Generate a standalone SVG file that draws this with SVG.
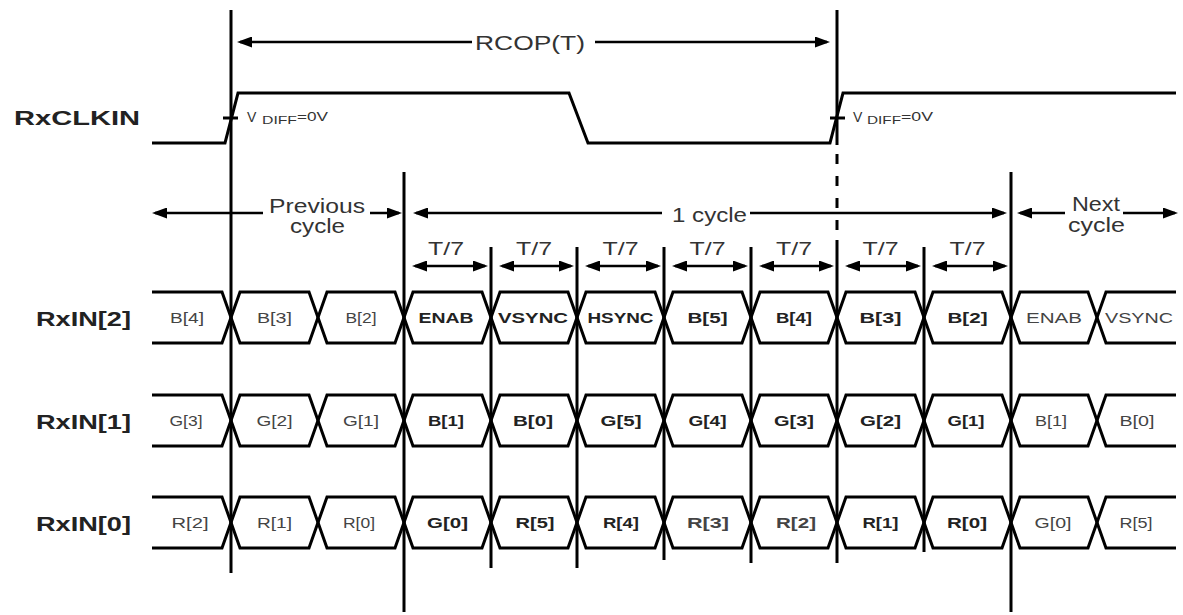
<svg xmlns="http://www.w3.org/2000/svg" xmlns:xlink="http://www.w3.org/1999/xlink" width="1183" height="615" viewBox="0 0 1183 615">
<style>
.w{fill:none;stroke:#000;stroke-width:3;stroke-linejoin:miter}
.v{stroke:#000;stroke-width:3}
.a{stroke:#000;stroke-width:2.5}
.lbl{font-family:"Liberation Sans",Arial,sans-serif;font-weight:700;font-size:21px;fill:#222}
.t{font-family:"Liberation Sans",Arial,sans-serif;font-size:20px;fill:#333}
.t7{font-family:"Liberation Sans",Arial,sans-serif;font-size:18px;fill:#333;text-anchor:middle}
.c{font-family:"Liberation Sans",Arial,sans-serif;font-size:14px;fill:#444;text-anchor:middle}
.cb{font-family:"Liberation Sans",Arial,sans-serif;font-size:14px;font-weight:700;fill:#222;text-anchor:middle}
.vd{font-family:"Liberation Sans",Arial,sans-serif;fill:#333}
</style>
<defs>
<marker id="arR" viewBox="0 0 15 11" refX="12" refY="5.5" markerWidth="15" markerHeight="11" markerUnits="userSpaceOnUse" orient="0"><path d="M0,0 L15,5.5 L0,11 z" fill="#000"/></marker>
<marker id="arL" viewBox="0 0 15 11" refX="3" refY="5.5" markerWidth="15" markerHeight="11" markerUnits="userSpaceOnUse" orient="0"><path d="M15,0 L0,5.5 L15,11 z" fill="#000"/></marker>
<g id="lane">
<path class="w" d="M152,0 H222 L240,51 H309 L327,0 H395 L413,51 H482 L500,0 H568 L586,51 H655 L673,0 H742 L760,51 H828 L846,0 H915 L933,51 H1002 L1020,0 H1088 L1106,51 H1176"/>
<path class="w" d="M152,51 H222 L240,0 H309 L327,51 H395 L413,0 H482 L500,51 H568 L586,0 H655 L673,51 H742 L760,0 H828 L846,51 H915 L933,0 H1002 L1020,51 H1088 L1106,0 H1176"/>
</g>
</defs>
<rect width="1183" height="615" fill="#fff"/>

<g id="rxclkin">
<text class="lbl" x="14" y="125" font-size="22" textLength="126" lengthAdjust="spacingAndGlyphs">RxCLKIN</text>
<path class="w" d="M152,143 H225 L238,93 H569 L588,143 H830 L843,93 H1176"/>
<line class="v" x1="223" y1="118" x2="238" y2="118"/>
<line class="v" x1="830" y1="118" x2="845" y2="118"/>
<text class="vd" x="247" y="122" font-size="14">V</text>
<text class="vd" x="262" y="124" font-size="10" textLength="35" lengthAdjust="spacingAndGlyphs">DIFF</text>
<text class="vd" x="297" y="121" font-size="12" textLength="31" lengthAdjust="spacingAndGlyphs">=0V</text>
<text class="vd" x="853" y="122" font-size="14">V</text>
<text class="vd" x="867" y="124" font-size="10" textLength="34" lengthAdjust="spacingAndGlyphs">DIFF</text>
<text class="vd" x="901" y="121" font-size="12" textLength="32" lengthAdjust="spacingAndGlyphs">=0V</text>
</g>

<g id="rxin2">
<text class="lbl" x="36" y="325.5" textLength="95" lengthAdjust="spacingAndGlyphs">RxIN[2]</text>
<use xlink:href="#lane" href="#lane" transform="translate(0,292)"/>
<text class="c" x="187" y="322.5" textLength="34" lengthAdjust="spacingAndGlyphs">B[4]</text>
<text class="c" x="274.5" y="322.5" textLength="35" lengthAdjust="spacingAndGlyphs">B[3]</text>
<text class="c" x="361" y="322.5" textLength="31" lengthAdjust="spacingAndGlyphs">B[2]</text>
<text class="cb" x="446" y="322.5" textLength="55" lengthAdjust="spacingAndGlyphs">ENAB</text>
<text class="cb" x="533" y="322.5" textLength="70" lengthAdjust="spacingAndGlyphs">VSYNC</text>
<text class="cb" x="620.5" y="322.5" textLength="66" lengthAdjust="spacingAndGlyphs">HSYNC</text>
<text class="cb" x="707.5" y="322.5" textLength="40" lengthAdjust="spacingAndGlyphs">B[5]</text>
<text class="cb" x="794" y="322.5" textLength="36" lengthAdjust="spacingAndGlyphs">B[4]</text>
<text class="cb" x="880.5" y="322.5" textLength="42" lengthAdjust="spacingAndGlyphs">B[3]</text>
<text class="cb" x="967.5" y="322.5" textLength="40" lengthAdjust="spacingAndGlyphs">B[2]</text>
<text class="c" x="1054" y="322.5" textLength="56" lengthAdjust="spacingAndGlyphs">ENAB</text>
<text class="c" x="1139" y="322.5" textLength="68" lengthAdjust="spacingAndGlyphs">VSYNC</text>
</g>

<g id="rxin1">
<text class="lbl" x="36" y="428.5" textLength="95" lengthAdjust="spacingAndGlyphs">RxIN[1]</text>
<use xlink:href="#lane" href="#lane" transform="translate(0,395)"/>
<text class="c" x="186" y="425.5" textLength="33" lengthAdjust="spacingAndGlyphs">G[3]</text>
<text class="c" x="274.5" y="425.5" textLength="36" lengthAdjust="spacingAndGlyphs">G[2]</text>
<text class="c" x="361" y="425.5" textLength="36" lengthAdjust="spacingAndGlyphs">G[1]</text>
<text class="cb" x="446" y="425.5" textLength="36" lengthAdjust="spacingAndGlyphs">B[1]</text>
<text class="cb" x="533" y="425.5" textLength="40" lengthAdjust="spacingAndGlyphs">B[0]</text>
<text class="cb" x="621" y="425.5" textLength="41" lengthAdjust="spacingAndGlyphs">G[5]</text>
<text class="cb" x="707.5" y="425.5" textLength="38" lengthAdjust="spacingAndGlyphs">G[4]</text>
<text class="cb" x="794" y="425.5" textLength="40" lengthAdjust="spacingAndGlyphs">G[3]</text>
<text class="cb" x="880.5" y="425.5" textLength="41" lengthAdjust="spacingAndGlyphs">G[2]</text>
<text class="cb" x="966" y="425.5" textLength="37" lengthAdjust="spacingAndGlyphs">G[1]</text>
<text class="c" x="1051" y="425.5" textLength="32" lengthAdjust="spacingAndGlyphs">B[1]</text>
<text class="c" x="1137" y="425.5" textLength="35" lengthAdjust="spacingAndGlyphs">B[0]</text>
</g>

<g id="rxin0">
<text class="lbl" x="36" y="530.5" textLength="95" lengthAdjust="spacingAndGlyphs">RxIN[0]</text>
<use xlink:href="#lane" href="#lane" transform="translate(0,497)"/>
<text class="c" x="190" y="527.5" textLength="37" lengthAdjust="spacingAndGlyphs">R[2]</text>
<text class="c" x="274.5" y="527.5" textLength="35" lengthAdjust="spacingAndGlyphs">R[1]</text>
<text class="c" x="359" y="527.5" textLength="32" lengthAdjust="spacingAndGlyphs">R[0]</text>
<text class="cb" x="447.5" y="527.5" textLength="41" lengthAdjust="spacingAndGlyphs">G[0]</text>
<text class="cb" x="535" y="527.5" textLength="39" lengthAdjust="spacingAndGlyphs">R[5]</text>
<text class="cb" x="621" y="527.5" textLength="36" lengthAdjust="spacingAndGlyphs">R[4]</text>
<text class="c" x="708" y="527.5" font-weight="700" textLength="42" lengthAdjust="spacingAndGlyphs">R[3]</text>
<text class="c" x="796" y="527.5" font-weight="700" textLength="40" lengthAdjust="spacingAndGlyphs">R[2]</text>
<text class="cb" x="880.5" y="527.5" textLength="36" lengthAdjust="spacingAndGlyphs">R[1]</text>
<text class="cb" x="967" y="527.5" textLength="40" lengthAdjust="spacingAndGlyphs">R[0]</text>
<text class="c" x="1053" y="527.5" textLength="37" lengthAdjust="spacingAndGlyphs">G[0]</text>
<text class="c" x="1136" y="527.5" textLength="33" lengthAdjust="spacingAndGlyphs">R[5]</text>
</g>

<g id="connectors">
<line class="v" x1="231" y1="10" x2="231" y2="573"/>
<line class="v" x1="837" y1="10" x2="837" y2="145"/>
<line class="v" x1="837" y1="154" x2="837" y2="240" stroke-dasharray="10 12"/>
<line class="v" x1="837" y1="240" x2="837" y2="563"/>
<line class="v" x1="404" y1="172" x2="404" y2="612"/>
<line class="v" x1="1011" y1="172" x2="1011" y2="612"/>
<line class="v" x1="491" y1="247" x2="491" y2="568"/>
<line class="v" x1="577" y1="247" x2="577" y2="568"/>
<line class="v" x1="664" y1="247" x2="664" y2="560"/>
<line class="v" x1="751" y1="247" x2="751" y2="563"/>
<line class="v" x1="924" y1="247" x2="924" y2="552"/>

<line class="a" x1="240" y1="42" x2="472" y2="42" marker-start="url(#arL)"/>
<line class="a" x1="595" y1="42" x2="827" y2="42" marker-end="url(#arR)"/>
<text class="t" x="530" y="50" text-anchor="middle" font-size="21" textLength="110" lengthAdjust="spacingAndGlyphs">RCOP(T)</text>

<line class="a" x1="155" y1="213" x2="263" y2="213" marker-start="url(#arL)"/>
<line class="a" x1="370" y1="213" x2="399" y2="213" marker-end="url(#arR)"/>
<text class="t" x="317" y="213" text-anchor="middle" textLength="96" lengthAdjust="spacingAndGlyphs">Previous</text>
<text class="t" x="317.5" y="233" text-anchor="middle" textLength="55" lengthAdjust="spacingAndGlyphs">cycle</text>

<line class="a" x1="416" y1="213" x2="662" y2="213" marker-start="url(#arL)"/>
<line class="a" x1="750" y1="213" x2="1004" y2="213" marker-end="url(#arR)"/>
<text class="t" x="709.5" y="222" text-anchor="middle" textLength="75" lengthAdjust="spacingAndGlyphs">1 cycle</text>

<line class="a" x1="1020" y1="213" x2="1065" y2="213" marker-start="url(#arL)"/>
<line class="a" x1="1123" y1="213" x2="1175" y2="213" marker-end="url(#arR)"/>
<text class="t" x="1096" y="211" text-anchor="middle" textLength="48" lengthAdjust="spacingAndGlyphs">Next</text>
<text class="t" x="1096.5" y="232" text-anchor="middle" textLength="57" lengthAdjust="spacingAndGlyphs">cycle</text>

<line class="a" x1="415" y1="266" x2="485" y2="266" marker-start="url(#arL)" marker-end="url(#arR)"/>
<line class="a" x1="502" y1="266" x2="571" y2="266" marker-start="url(#arL)" marker-end="url(#arR)"/>
<line class="a" x1="588" y1="266" x2="658" y2="266" marker-start="url(#arL)" marker-end="url(#arR)"/>
<line class="a" x1="675" y1="266" x2="745" y2="266" marker-start="url(#arL)" marker-end="url(#arR)"/>
<line class="a" x1="762" y1="266" x2="831" y2="266" marker-start="url(#arL)" marker-end="url(#arR)"/>
<line class="a" x1="848" y1="266" x2="918" y2="266" marker-start="url(#arL)" marker-end="url(#arR)"/>
<line class="a" x1="935" y1="266" x2="1005" y2="266" marker-start="url(#arL)" marker-end="url(#arR)"/>
<text class="t7" x="446" y="255" textLength="36" lengthAdjust="spacingAndGlyphs">T/7</text>
<text class="t7" x="534" y="255" textLength="36" lengthAdjust="spacingAndGlyphs">T/7</text>
<text class="t7" x="620.5" y="255" textLength="36" lengthAdjust="spacingAndGlyphs">T/7</text>
<text class="t7" x="707.5" y="255" textLength="36" lengthAdjust="spacingAndGlyphs">T/7</text>
<text class="t7" x="794" y="255" textLength="36" lengthAdjust="spacingAndGlyphs">T/7</text>
<text class="t7" x="880.5" y="255" textLength="36" lengthAdjust="spacingAndGlyphs">T/7</text>
<text class="t7" x="967.5" y="255" textLength="36" lengthAdjust="spacingAndGlyphs">T/7</text>
</g>
</svg>
